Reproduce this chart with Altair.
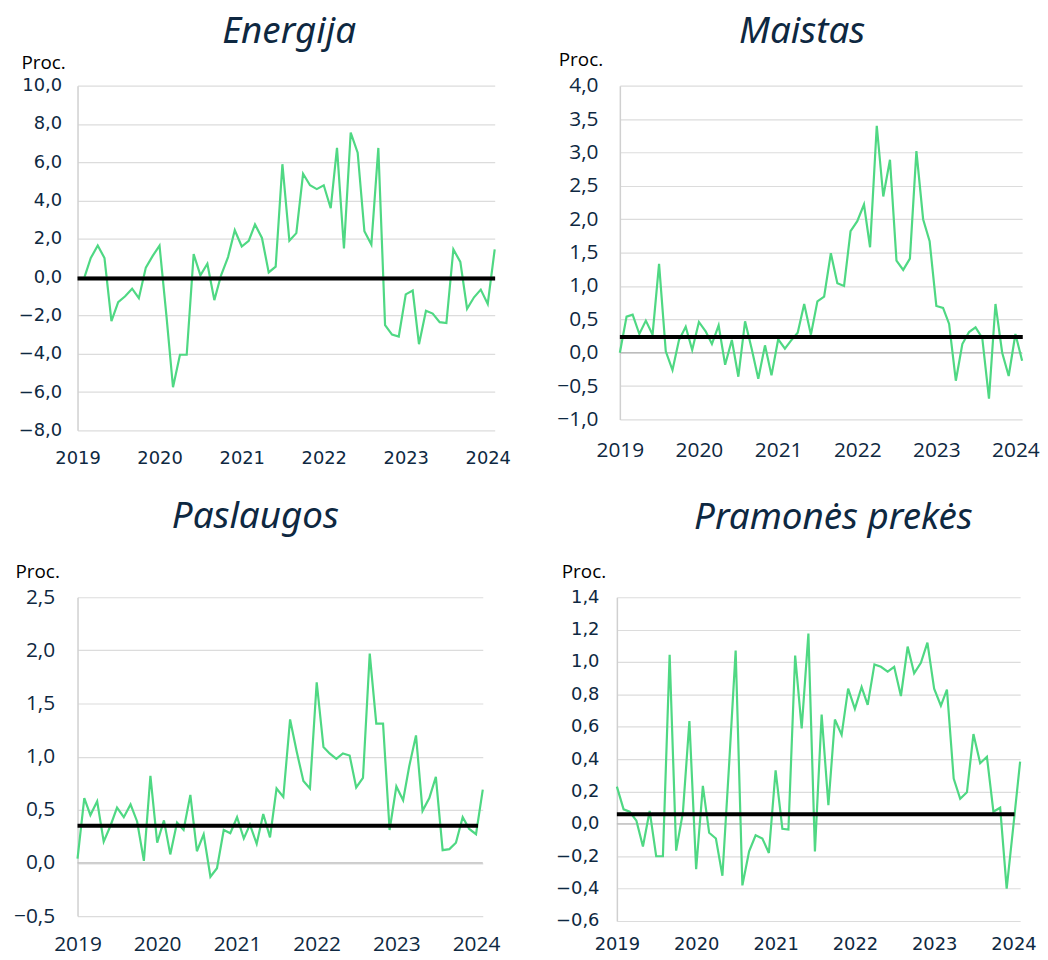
import altair as alt
import pandas as pd

# ---- data (monthly, Jan 2019 - Feb 2024) ----
months = pd.date_range("2019-01-01", periods=62, freq="MS")

energija = [None, 0.0, 1.0, 1.65, 1.0, -2.3, -1.3, -1.0, -0.6, -1.1,
            0.5, 1.1, 1.65, -2.05, -5.75, -4.05, -4.05, 1.2, 0.1, 0.7,
            -1.2, 0.1, 1.05, 2.45, 1.6, 1.9, 2.75, 2.05, 0.25, 0.55,
            5.9, 1.9, 2.3, 5.4, 4.8, 4.6, 4.8, 3.6, 6.75, 1.5,
            7.55, 6.5, 2.4, 1.7, 6.75, -2.5, -3.0, -3.1, -0.9, -0.7,
            -3.5, -1.75, -1.9, -2.35, -2.4, 1.45, 0.8, -1.65, -1.05, -0.65,
            -1.4, 1.45]

maistas = [0.0, 0.54, 0.57, 0.28, 0.48, 0.27, 1.33, 0.02, -0.26, 0.19,
           0.39, 0.04, 0.46, 0.32, 0.13, 0.41, -0.18, 0.19, -0.36, 0.47,
           0.05, -0.39, 0.11, -0.34, 0.2, 0.06, 0.18, 0.3, 0.73, 0.27,
           0.77, 0.84, 1.49, 1.04, 1.0, 1.82, 1.97, 2.22, 1.58, 3.4,
           2.34, 2.89, 1.38, 1.24, 1.41, 3.02, 2.0, 1.67, 0.7, 0.67,
           0.43, -0.42, 0.13, 0.31, 0.38, 0.22, -0.69, 0.73, 0.0, -0.35,
           0.28, -0.12]

paslaugos = [0.04, 0.61, 0.45, 0.58, 0.2, 0.35, 0.52, 0.43, 0.55, 0.39,
             0.02, 0.82, 0.19, 0.4, 0.08, 0.38, 0.31, 0.64, 0.11, 0.27,
             -0.13, -0.05, 0.31, 0.28, 0.43, 0.23, 0.36, 0.18, 0.46, 0.24,
             0.7, 0.62, 1.35, 1.05, 0.77, 0.7, 1.7, 1.09, 1.03, 0.98,
             1.03, 1.01, 0.71, 0.8, 1.97, 1.31, 1.31, 0.31, 0.72, 0.59,
             0.91, 1.2, 0.49, 0.61, 0.81, 0.12, 0.13, 0.19, 0.43, 0.32,
             0.27, 0.69]

pramones = [0.23, 0.09, 0.075, 0.02, -0.14, 0.08, -0.2, -0.2, 1.045, -0.165,
            0.07, 0.635, -0.28, 0.235, -0.055, -0.09, -0.32, 0.37, 1.07, -0.38,
            -0.17, -0.07, -0.09, -0.18, 0.33, -0.03, -0.035, 1.04, 0.59, 1.175,
            -0.17, 0.675, 0.115, 0.645, 0.55, 0.835, 0.71, 0.845, 0.735, 0.985,
            0.97, 0.94, 0.97, 0.79, 1.095, 0.93, 0.995, 1.12, 0.835, 0.73,
            0.83, 0.28, 0.155, 0.195, 0.555, 0.375, 0.415, 0.075, 0.10, -0.4,
            -0.01, 0.385]

titles = ["Energija", "Maistas", "Paslaugos", "Pramonės prekės"]
means = [-0.07, 0.235, 0.35, 0.06]
mean_start = ["2019-01-01T00:00:00"] * 4
mean_end = ["2024-02-03T00:00:00", "2024-02-04T00:00:00",
            "2024-01-10T00:00:00", "2024-01-06T00:00:00"]

ticks_energija = [-8, -6, -4, -2, 0, 2, 4, 6, 8, 10]
ticks_maistas = [-1, -0.5, 0, 0.5, 1, 1.5, 2, 2.5, 3, 3.5, 4]
ticks_paslaugos = [-0.5, 0, 0.5, 1, 1.5, 2, 2.5]
ticks_pramones = [-0.6, -0.4, -0.2, 0, 0.2, 0.4, 0.6, 0.8, 1.0, 1.2, 1.4]
year_labels = [2019, 2020, 2021, 2022, 2023, 2024]

TEXT = "#0e2841"
GREEN = "#4fd883"
X_START = alt.DateTime(year=2019, month=1, date=1)
X_END = alt.DateTime(year=2024, month=2, date=1)


def panel(idx, values, ticks, w, h, font, fsize, title_x, title_y,
          title_offset, title_dx, xpad, ypad):
    df = pd.DataFrame({"date": months, "value": values,
                       "zero": [0.0] * len(months)})
    mdf = pd.DataFrame({"start": [mean_start[idx]], "end": [mean_end[idx]],
                        "value": [means[idx]]})
    yscale = alt.Scale(domain=[ticks[0], ticks[-1]], nice=False, zero=False)
    xscale = alt.Scale(domain=[X_START, X_END])

    x_axis = alt.Axis(
        values=[alt.DateTime(year=y, month=1, date=1) for y in year_labels],
        format="%Y", labelFlush=False, labelOverlap=False, grid=False,
        ticks=False, domain=False, title=None, labelFont=font,
        labelFontSize=fsize, labelColor=TEXT, labelPadding=xpad)
    y_axis = alt.Axis(
        values=ticks, labelOverlap=False, labelFlush=False,
        labelExpr="replace(format(datum.value, '.1f'), '.', ',')",
        title="Proc.", titleAngle=0, titleAlign="left",
        titleBaseline="alphabetic", titleX=title_x, titleY=title_y,
        titleFont="Open Sans", titleFontSize=19, titleFontWeight="normal",
        titleColor="#000000", labelFont=font, labelFontSize=fsize,
        labelColor=TEXT, labelPadding=ypad, ticks=False,
        domainColor="#d0d0d0", domainWidth=1.5, gridColor="#dcdcdc",
        gridWidth=1.2)

    def X(field):
        return alt.X(field, scale=xscale, axis=x_axis)

    def Y(field):
        return alt.Y(field, scale=yscale, axis=y_axis)

    base = alt.Chart(df)
    zero = base.mark_line(color="#bcbcbc", strokeWidth=1.3).encode(
        x=X("date:T"), y=Y("zero:Q"))
    line = base.mark_line(color=GREEN, strokeWidth=2.2).encode(
        x=X("date:T"), y=Y("value:Q"))
    mean = alt.Chart(mdf).mark_rule(color="#000000", strokeWidth=4,
                                    strokeCap="butt").encode(
        x=X("start:T"), x2="end:T", y=Y("value:Q"))
    return alt.layer(zero, line, mean).properties(
        width=w, height=h,
        title=alt.TitleParams(
            titles[idx], font="Noto Sans", fontSize=37, fontStyle="italic",
            fontWeight="normal", color=TEXT, anchor="middle", frame="group",
            offset=title_offset, dx=title_dx))


p1 = panel(0, energija, ticks_energija, 420, 347, "DejaVu Sans", 18,
           -57, -17, 3, 3, 19, 16)
p2 = panel(1, maistas, ticks_maistas, 405, 336, "Open Sans", 21,
           -62, -20, 0, -19, 20, 22)
p3 = panel(2, paslaugos, ticks_paslaugos, 408, 321, "Open Sans", 21,
           -63, -20, 27, -25, 18, 23)
p4 = panel(3, pramones, ticks_pramones, 406, 326, "DejaVu Sans", 18,
           -56, -20, 26, 15, 15, 18)

chart = alt.vconcat(
    alt.hconcat(p1, p2, spacing=46),
    alt.hconcat(p3, p4, spacing=55),
    spacing=31,
).configure_view(stroke=None).properties(
    background="white",
    padding={"left": 5, "top": 2, "right": 0, "bottom": 0})

chart.save("out.html", embed_options={"renderer": "svg", "actions": False})
